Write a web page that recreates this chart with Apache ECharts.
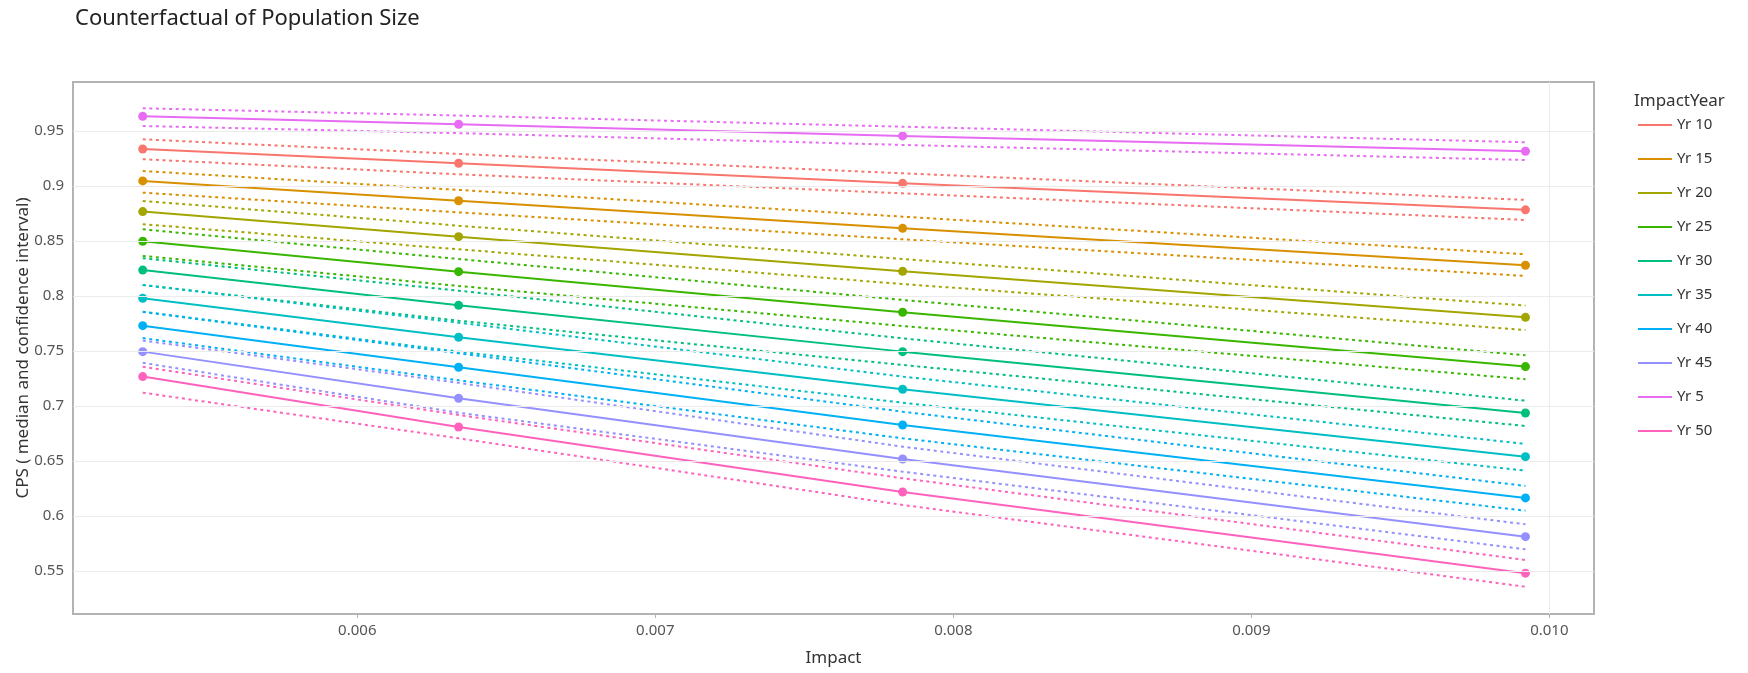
<!DOCTYPE html>
<html>
<head>
<meta charset="utf-8">
<script src="https://cdn.jsdelivr.net/npm/echarts@6/dist/echarts.min.js"></script>
<style>
html,body{margin:0;padding:0;background:#fff;}
#chart{width:1748px;height:673px;}
</style>
</head>
<body>
<div id="chart"></div>
<script>
// ---- data ----
const impact = [0.00528, 0.00634, 0.00783, 0.00992];
const yearNames = ['Yr 10','Yr 15','Yr 20','Yr 25','Yr 30','Yr 35','Yr 40','Yr 45','Yr 5','Yr 50'];
const yTicks = [0.55, 0.6, 0.65, 0.7, 0.75, 0.8, 0.85, 0.9, 0.95];
const xTicks = [0.006, 0.007, 0.008, 0.009, 0.010];

const medYr5  = [0.9633, 0.9561, 0.9455, 0.9315];
const hiYr5   = [0.9706, 0.9640, 0.9539, 0.9397];
const loYr5   = [0.9545, 0.9480, 0.9373, 0.9236];
const medYr10 = [0.9336, 0.9206, 0.9024, 0.8783];
const hiYr10  = [0.9424, 0.9291, 0.9115, 0.8873];
const loYr10  = [0.9243, 0.9106, 0.8933, 0.8691];
const medYr15 = [0.9046, 0.8866, 0.8615, 0.8279];
const hiYr15  = [0.9136, 0.8964, 0.8721, 0.8379];
const loYr15  = [0.8939, 0.8760, 0.8515, 0.8182];
const medYr20 = [0.8767, 0.8539, 0.8224, 0.7806];
const hiYr20  = [0.8864, 0.8639, 0.8336, 0.7912];
const loYr20  = [0.8652, 0.8424, 0.8109, 0.7691];
const medYr25 = [0.8497, 0.8221, 0.7852, 0.7358];
const hiYr25  = [0.8606, 0.8336, 0.7964, 0.7461];
const loYr25  = [0.8364, 0.8091, 0.7727, 0.7243];
const medYr30 = [0.8235, 0.7915, 0.7494, 0.6936];
const hiYr30  = [0.8343, 0.8048, 0.7615, 0.7048];
const loYr30  = [0.8100, 0.7775, 0.7373, 0.6818];
const medYr35 = [0.7979, 0.7625, 0.7152, 0.6539];
const hiYr35  = [0.8100, 0.7757, 0.7267, 0.6655];
const loYr35  = [0.7857, 0.7494, 0.7030, 0.6412];
const medYr40 = [0.7730, 0.7352, 0.6827, 0.6164];
const hiYr40  = [0.7855, 0.7479, 0.6948, 0.6273];
const loYr40  = [0.7617, 0.7233, 0.6706, 0.6048];
const medYr45 = [0.7494, 0.7070, 0.6518, 0.5812];
const hiYr45  = [0.7595, 0.7210, 0.6630, 0.5924];
const loYr45  = [0.7392, 0.6939, 0.6403, 0.5697];
const medYr50 = [0.7267, 0.6809, 0.6218, 0.5480];
const hiYr50  = [0.7357, 0.6918, 0.6343, 0.5600];
const loYr50  = [0.7121, 0.6706, 0.6100, 0.5357];

const colors = ['#F8766D','#D89000','#A3A500','#39B600','#00BF7D','#00BFC4','#00B0F6','#9590FF','#E76BF3','#FF62BC'];

const groups = [
  [medYr10, hiYr10, loYr10],
  [medYr15, hiYr15, loYr15],
  [medYr20, hiYr20, loYr20],
  [medYr25, hiYr25, loYr25],
  [medYr30, hiYr30, loYr30],
  [medYr35, hiYr35, loYr35],
  [medYr40, hiYr40, loYr40],
  [medYr45, hiYr45, loYr45],
  [medYr5,  hiYr5,  loYr5 ],
  [medYr50, hiYr50, loYr50]
];

const FONT = '"Noto Sans", "Open Sans", sans-serif';
const pair = arr => arr.map((v, i) => [impact[i], v]);

const series = [];
// gridlines drawn through the axes' scales
series.push({
  type: 'line', name: '_grid', data: [], silent: true, z: 0,
  markLine: {
    silent: true, symbol: 'none', animation: false,
    label: {show: false},
    lineStyle: {color: '#ebebeb', width: 1, type: 'solid'},
    data: yTicks.map(v => ({yAxis: v})).concat(xTicks.map(v => ({xAxis: v})))
  }
});
groups.forEach((g, k) => {
  const c = colors[k];
  [1, 2].forEach(j => {
    series.push({
      type: 'line', name: yearNames[k] + (j === 1 ? ' upper' : ' lower'),
      data: pair(g[j]), showSymbol: false, symbol: 'none', silent: true, z: 2,
      lineStyle: {color: c, width: 2, type: [3, 3.6]},
      itemStyle: {color: c}, animation: false
    });
  });
  series.push({
    type: 'line', name: yearNames[k], data: pair(g[0]),
    symbol: 'circle', symbolSize: 9, showSymbol: true, z: 3,
    lineStyle: {color: c, width: 2, type: 'solid'},
    itemStyle: {color: c}, animation: false
  });
});

const chart = echarts.init(document.getElementById('chart'), null, {renderer: 'canvas'});
chart.setOption({
  backgroundColor: '#ffffff',
  animation: false,
  textStyle: {fontFamily: FONT},
  title: [
    {text: 'Counterfactual of Population Size', left: 70, top: 3,
     textStyle: {fontFamily: FONT, fontSize: 22, fontWeight: 'normal', color: '#222'}},
    {text: 'ImpactYear', left: 1629, top: 88,
     textStyle: {fontFamily: FONT, fontSize: 17, fontWeight: 'normal', color: '#333'}}
  ],
  legend: {
    orient: 'vertical', left: 1633, top: 110,
    data: yearNames, icon: 'rect', itemWidth: 34, itemHeight: 2, itemGap: 14, itemStyle: {borderWidth: 0},
    textStyle: {fontFamily: FONT, fontSize: 15, color: '#333', lineHeight: 20}
  },
  grid: {left: 73, right: 154, top: 82, bottom: 59, show: true,
         borderColor: '#b3b3b3', borderWidth: 2, backgroundColor: '#fff'},
  xAxis: {
    type: 'value', min: 0.005046, max: 0.01015,
    name: 'Impact', nameLocation: 'middle', nameGap: 36, nameMoveOverlap: false,
    nameTextStyle: {fontFamily: FONT, fontSize: 17, color: '#333'},
    axisLine: {show: false},
    axisTick: {show: true, length: 4, lineStyle: {color: '#b3b3b3'}, customValues: xTicks},
    axisLabel: {customValues: xTicks, margin: 9, fontSize: 15, color: '#555',
                formatter: v => v.toFixed(3)},
    splitLine: {show: false}
  },
  yAxis: {
    type: 'value', min: 0.5109, max: 0.9945,
    name: 'CPS ( median and confidence interval)', nameLocation: 'middle', nameGap: 41, nameMoveOverlap: false,
    nameTextStyle: {fontFamily: FONT, fontSize: 17, color: '#333'},
    axisLine: {show: false},
    axisTick: {show: false, customValues: yTicks},
    axisLabel: {customValues: yTicks, margin: 9, fontSize: 15, color: '#555',
                formatter: v => String(parseFloat(v.toFixed(2)))},
    splitLine: {show: false}
  },
  series: series
});
</script>
</body>
</html>
